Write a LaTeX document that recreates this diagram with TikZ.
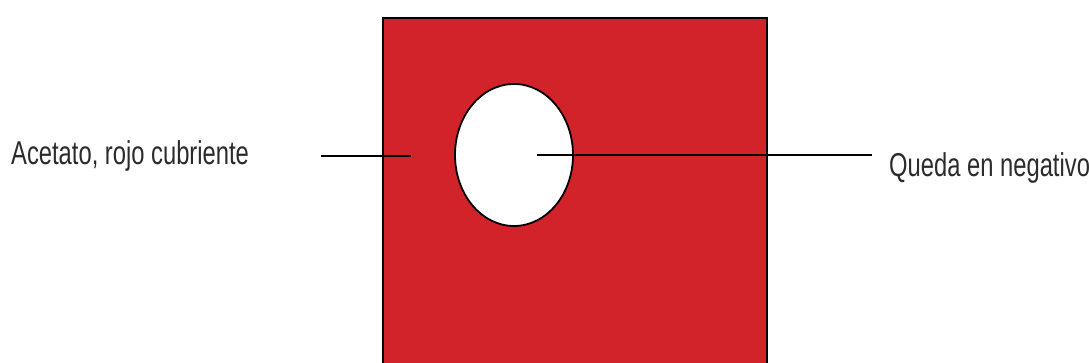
\documentclass[tikz,border=0pt]{standalone}
\usepackage{fontspec}
\setmainfont[FakeStretch=0.72]{Liberation Sans}
\usetikzlibrary{shapes.geometric}
\definecolor{acRed}{HTML}{D2232A}
\definecolor{acInk}{HTML}{2B2B2B}

\begin{document}
\begin{tikzpicture}[x=1pt,y=-1pt,
      lbl/.style={font=\fontsize{33}{36}\selectfont,text=acInk,inner sep=0pt,anchor=base west},
      lead/.style={line width=1.6pt,black}]
    \useasboundingbox (0,0) rectangle (1089,363);
    \clip (0,0) rectangle (1089,363);

    \node[draw,line width=1.8pt,fill=acRed,minimum width=384pt,minimum height=380pt,
          inner sep=0pt,anchor=north west] (sheet) at (382,17) {};
    \node[ellipse,draw,line width=1.8pt,fill=white,minimum width=118pt,
          minimum height=142pt,inner sep=0pt] (hole) at (514,155) {};

    \node[lbl] (acetato) at (11,165) {Acetato, rojo cubriente};
    \node[lbl] (negativo) at (889,177) {Queda en negativo};

    \coordinate (a1) at (321,156);
    \coordinate (a2) at (411,156);
    \coordinate (n1) at (537,155);
    \coordinate (n2) at (872,155);
    \draw[lead] (a1) -- (a2);
    \draw[lead] (n1) -- (n2);
  \end{tikzpicture}
\end{document}
